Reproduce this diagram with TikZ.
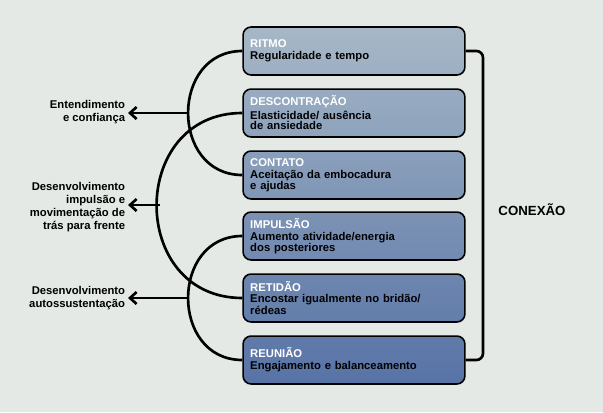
\documentclass[tikz,border=0pt]{standalone}
\usepackage{fontspec}
\setmainfont{Liberation Sans}
\usetikzlibrary{arrows.meta}
\definecolor{bgc}{HTML}{E4E9E5}
\definecolor{ctop}{HTML}{A6B7C6}
\definecolor{cbot}{HTML}{5773A6}
\tikzset{
    box/.style={draw,line width=1.2pt,rounded corners=6pt,minimum width=5.88cm,
        minimum height=1.27cm,text width=5.5cm,align=left,inner sep=0pt,
        font=\bfseries\fontsize{8.5}{8}\selectfont},
    link/.style={line width=2pt},
    edge/.style={line width=2pt,-{Straight Barb[length=5pt,width=9pt,line width=2pt]}},
    lbl/.style={anchor=east,align=right,font=\bfseries\fontsize{8.5}{10}\selectfont,inner sep=2pt}
}
\begin{document}
\begin{tikzpicture}[x=0.0265cm,y=-0.0265cm]
\fill[bgc] (0,0) rectangle (603,412);
\useasboundingbox (0,0) rectangle (603,412);

\foreach \name/\y/\p/\title/\sub in {
    r/51/0/RITMO/Regularidade e tempo,
    d/113/18/DESCONTRAÇÃO/{Elasticidade/ ausência\\de ansiedade},
    c/175/36/CONTATO/{Aceitação da embocadura\\e ajudas},
    i/236/54/IMPULSÃO/{Aumento atividade/energia\\dos posteriores},
    t/298/72/RETIDÃO/{Encostar igualmente no bridão/\\rédeas},
    u/360/88/REUNIÃO/Engajamento e balanceamento}
{
    \pgfmathtruncatemacro{\q}{\p+12}
    \node[box,top color=cbot!\p!ctop,bottom color=cbot!\q!ctop] (\name) at (354,\y)
        {\textcolor{white}{\title}\\[1pt]\sub};
}

% arcs
\draw[link] (r.west) .. controls (170,51) and (170,175) .. (c.west);
\draw[link] (d.west) .. controls (128,113) and (128,298) .. (t.west);
\draw[link] (i.west) .. controls (170,236) and (170,360) .. (u.west);

\coordinate (a1) at (188,113);
\coordinate (a2) at (160,205);
\coordinate (a3) at (188,298);
\node[lbl] (e1) at (128,112) {Entendimento\\e confiança};
\node[lbl] (e2) at (128,207) {Desenvolvimento\\impulsão e\\movimentação de\\trás para frente};
\node[lbl] (e3) at (128,298) {Desenvolvimento\\autossustentação};
\draw[edge] (a1) -- (e1.east|-a1);
\draw[edge] (a2) -- (e2.east|-a2);
\draw[edge] (a3) -- (e3.east|-a3);

% bracket
\draw[link,rounded corners=5pt] (r.east) -- (483,51) -- (483,360) -- (u.east);
\node[font=\bfseries\fontsize{10}{12}\selectfont] (k) at (532,210) {CONEXÃO};
\end{tikzpicture}
\end{document}
